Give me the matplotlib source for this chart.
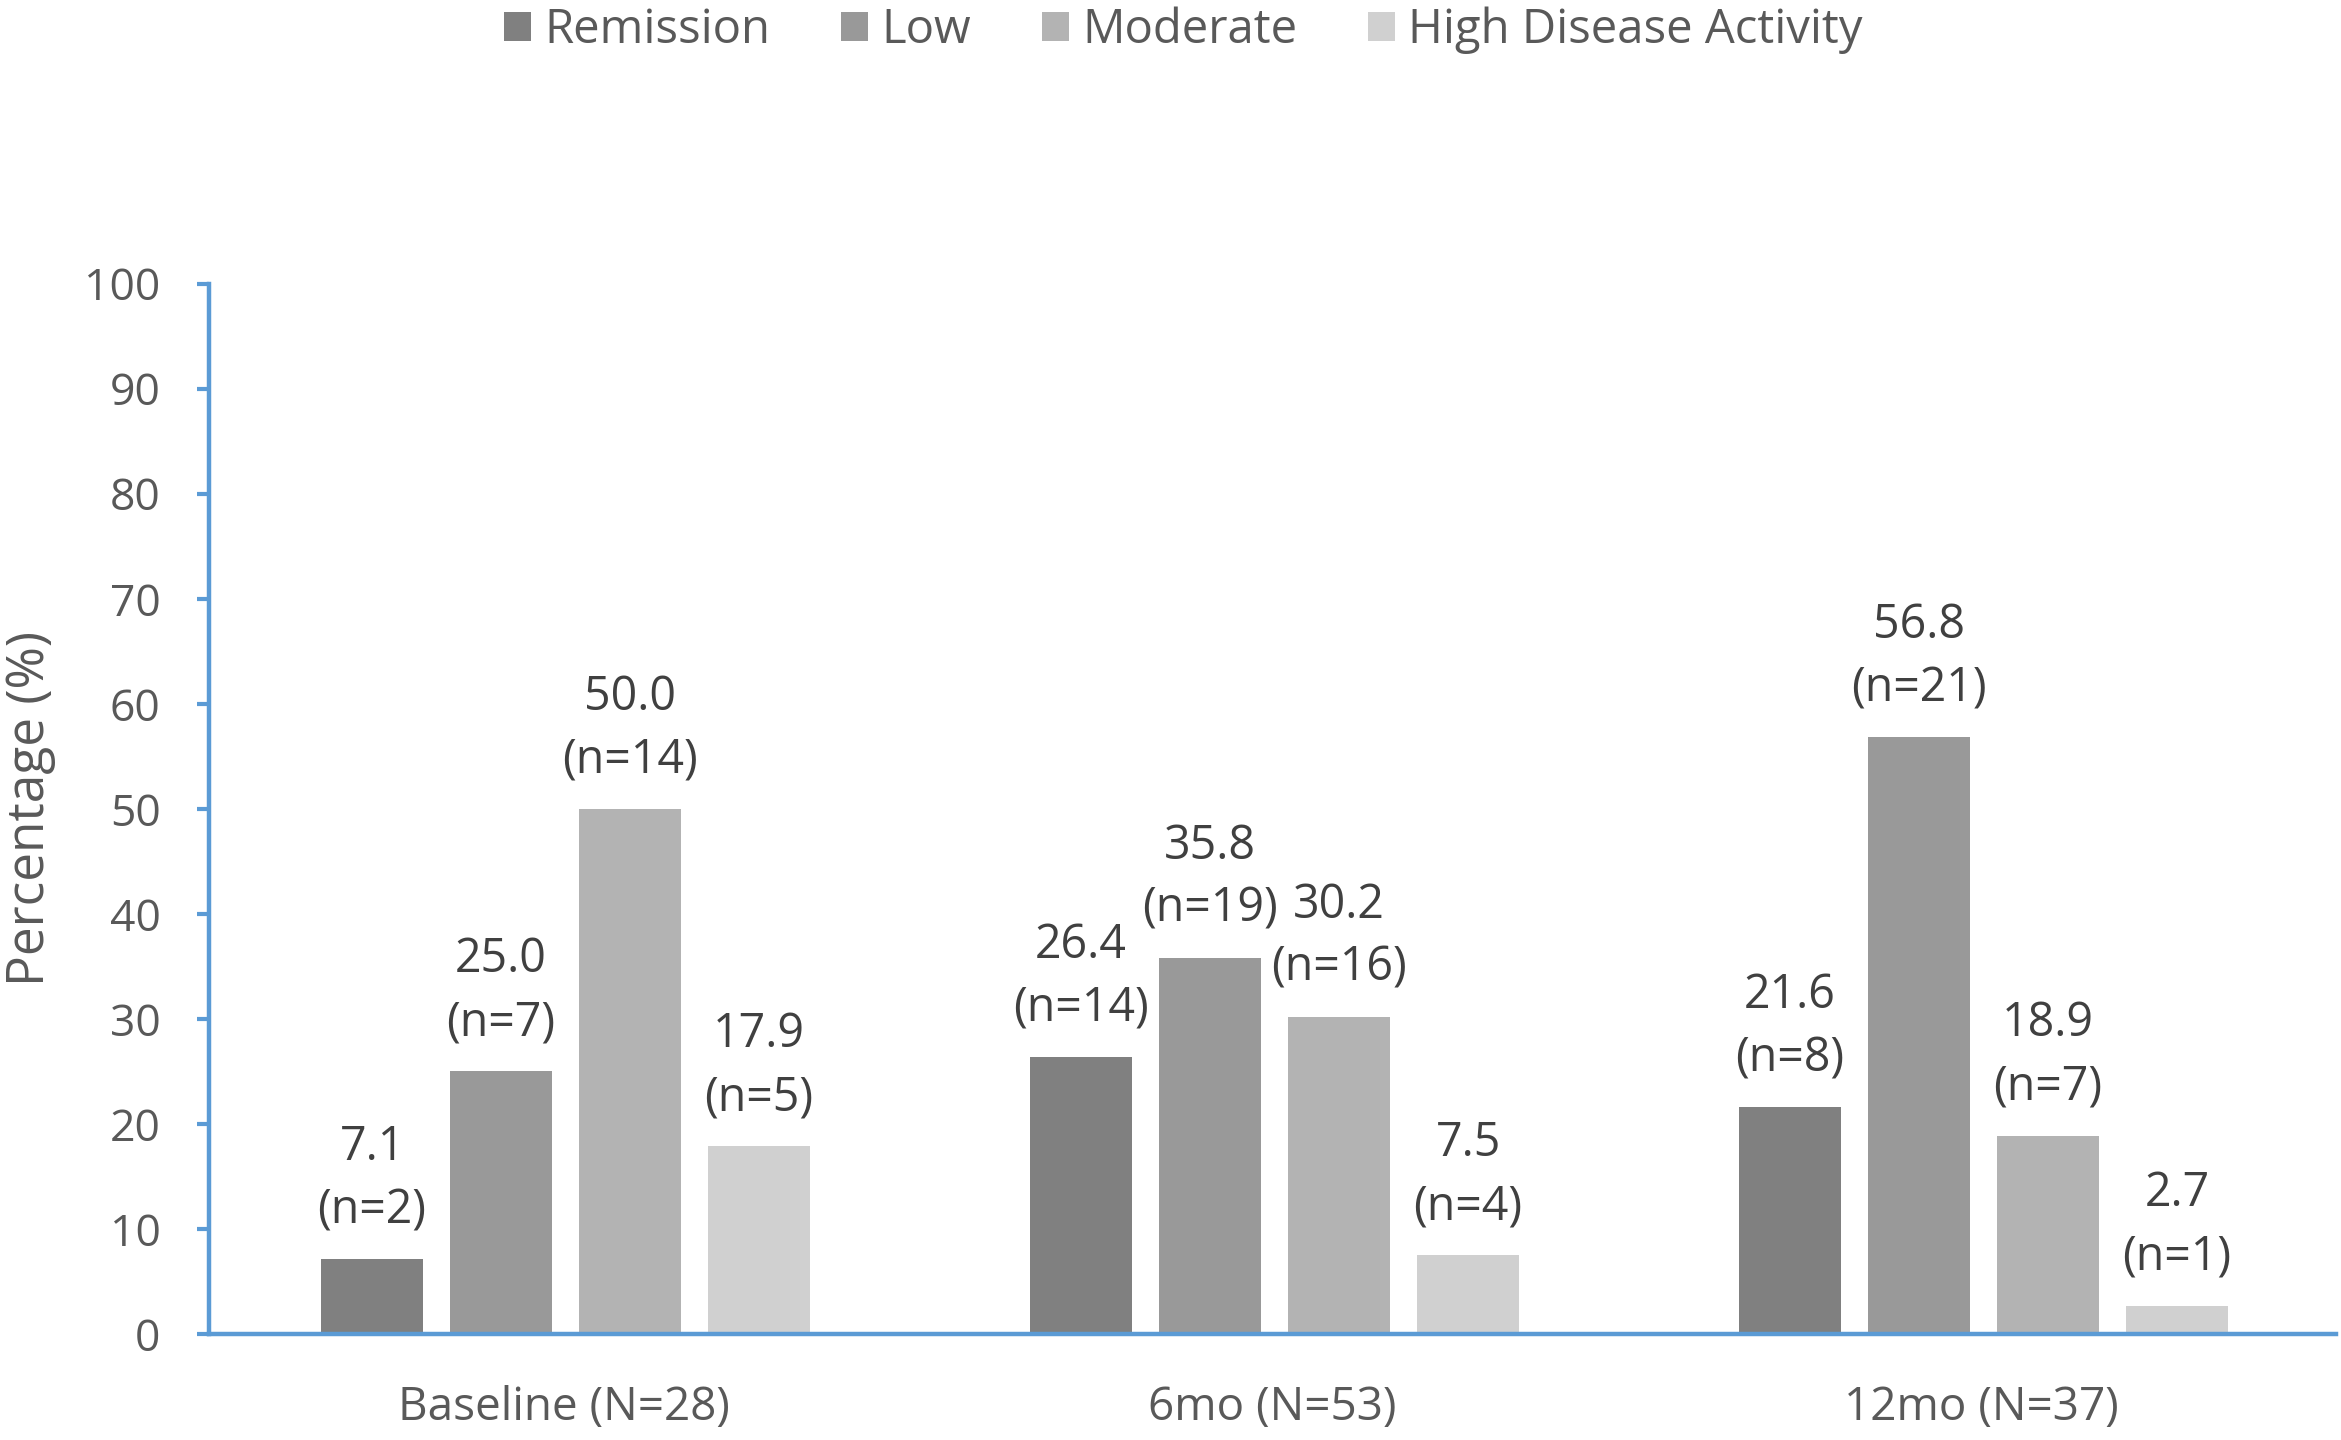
import matplotlib.pyplot as plt
import numpy as np

plt.rcParams['font.family'] = ['Open Sans', 'DejaVu Sans']

groups = ['Baseline (N=28)', '6mo (N=53)', '12mo (N=37)']
series = ['Remission', 'Low', 'Moderate', 'High Disease Activity']
pct = [
    [7.1, 26.4, 21.6],
    [25.0, 35.8, 56.8],
    [50.0, 30.2, 18.9],
    [17.9, 7.5, 2.7],
]
counts = [
    [2, 14, 8],
    [7, 19, 21],
    [14, 16, 7],
    [5, 4, 1],
]
colors = ['#808080', '#999999', '#b3b3b3', '#d0d0d0']
axis_blue = '#5b9bd5'

fig = plt.figure(figsize=(23.41, 14.4), dpi=100)
ax = fig.add_axes([0.0893, 0.0736, 0.9085, 0.7294])

x = np.arange(len(groups))
step = 0.182
width = 0.143
for i, name in enumerate(series):
    off = (i - 1.5) * step + 0.003
    bars = ax.bar(x + off, pct[i], width, color=colors[i], label=name, zorder=2)
    labs = ['%.1f\n(n=%d)' % (v, n) for v, n in zip(pct[i], counts[i])]
    ax.bar_label(bars, labels=labs, padding=18, fontsize=33.5, color='#404040',
                 linespacing=1.43)

ax.set_xlim(-0.5, 2.5)
ax.set_ylim(0, 100)
ax.set_yticks(range(0, 101, 10))
ax.set_xticks(x)
ax.set_xticklabels(groups)
ax.set_ylabel('Percentage (%)', fontsize=37, color='#595959', labelpad=20)

for s in ['top', 'right']:
    ax.spines[s].set_visible(False)
for s in ['left', 'bottom']:
    ax.spines[s].set_color(axis_blue)
    ax.spines[s].set_linewidth(3.2)
ax.tick_params(axis='y', length=9, width=3, color=axis_blue, labelsize=32,
               labelcolor='#595959', pad=26)
ax.tick_params(axis='x', length=0, labelsize=33, labelcolor='#595959', pad=37)

fig.legend(loc='center', bbox_to_anchor=(0.5055, 0.979), ncol=4, frameon=False,
           fontsize=34, labelcolor='#595959', handlelength=0.57, handleheight=0.57,
           handletextpad=0.28, columnspacing=1.5)

fig.savefig('out.png', dpi=100)
